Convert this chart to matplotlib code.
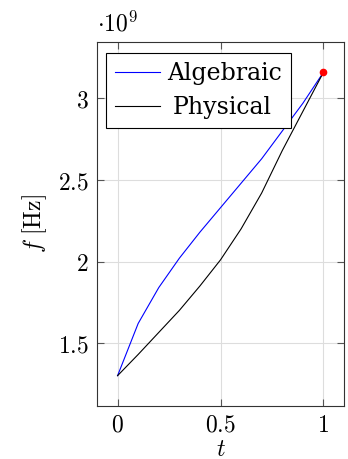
import matplotlib.pyplot as plt
import numpy as np

plt.rcParams['mathtext.fontset'] = 'cm'

t = [0, 0.1, 0.2, 0.3, 0.4, 0.5, 0.6, 0.7, 0.8, 0.9, 1.0]
algebraic = [1.30, 1.62, 1.84, 2.02, 2.18, 2.33, 2.48, 2.63, 2.80, 2.97, 3.16]
physical = [1.30, 1.43, 1.565, 1.70, 1.85, 2.01, 2.20, 2.42, 2.68, 2.92, 3.16]
end_point = (1.0, 3.16)

xticks = [0, 0.5, 1]
yticks = [1.5, 2, 2.5, 3]

fig = plt.figure(figsize=(3.48, 4.59), dpi=100)
ax = fig.add_axes([97/348, 1-406/459, 247/348, 364/459])

ax.plot(t, algebraic, color='blue', lw=0.8, label='Algebraic')
ax.plot(t, physical, color='black', lw=0.8, label='Physical')
ax.plot(*end_point, 'o', color='red', ms=4.5, zorder=5)

ax.set_xlim(-0.1, 1.1)
ax.set_ylim(1.114, 3.346)
ax.set_xticks(xticks)
ax.set_xticklabels(['$0$', '$0.5$', '$1$'])
ax.set_yticks(yticks)
ax.set_yticklabels(['$1.5$', '$2$', '$2.5$', '$3$'])
ax.tick_params(direction='in', length=5, width=0.8, color='#555555',
               labelsize=17, top=True, right=True)
ax.tick_params(axis='x', pad=5)
ax.tick_params(axis='y', pad=6)
ax.grid(True, color='#dddddd', lw=0.8)
ax.set_axisbelow(True)
for s in ax.spines.values():
    s.set_color('#333333')
    s.set_linewidth(0.8)

ax.set_xlabel('$t$', fontsize=17, labelpad=0)
ax.set_ylabel(r'$f\ [\mathrm{Hz}]$', fontsize=17, labelpad=6)
ax.text(0.0, 1.015, r'$\cdot 10^{9}$', transform=ax.transAxes,
        fontsize=17, ha='left', va='bottom')

leg = ax.legend(loc='upper left', bbox_to_anchor=(0.035, 0.9706), borderaxespad=0,
                prop={'family': 'DejaVu Serif', 'size': 17}, fancybox=False,
                edgecolor='black', framealpha=1, handlelength=1.9,
                handletextpad=0.3, labelspacing=0.45, borderpad=0.4)
leg.get_frame().set_linewidth(0.8)
# centre the shorter entry like pgfplots does
leg.get_texts()[1].set_x(6)

fig.savefig('out.png', dpi=100)
